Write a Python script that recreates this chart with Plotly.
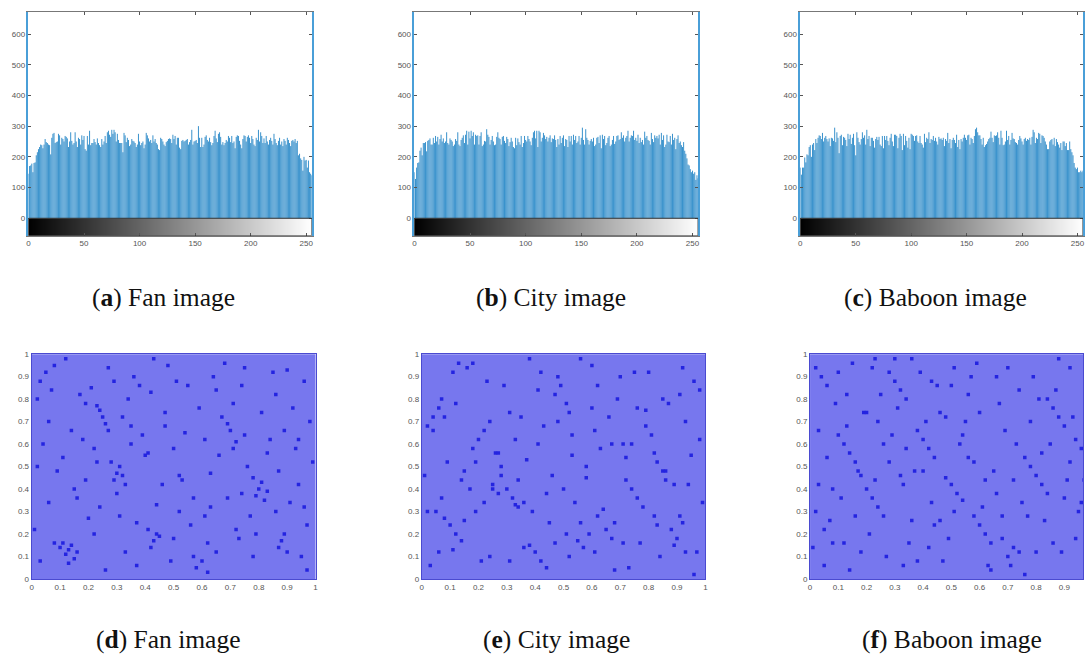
import plotly.graph_objects as go

# Histogram counts per grey level.
levels = list(range(256))
fan_hist = [
145,170,172,178,150,180,182,205,215,225,232,240,238,228,240,258,248,245,240,238,
208,262,275,278,245,248,250,275,270,240,262,258,250,268,265,260,232,250,280,252,
240,245,280,250,232,262,258,240,270,255,268,225,220,268,240,285,238,245,245,258,
248,240,260,245,238,232,258,240,250,268,245,280,285,272,265,288,275,288,280,250,
275,255,245,245,245,215,278,270,248,262,255,235,240,258,252,250,245,232,240,275,
250,238,245,250,228,240,278,270,260,250,255,245,270,250,258,245,240,225,222,262,
258,250,240,235,248,252,258,260,258,245,272,258,268,240,262,262,230,225,252,255,
250,252,255,258,240,248,255,288,240,250,252,255,245,300,262,232,262,232,240,265,
270,255,250,262,248,238,245,268,285,260,248,275,280,265,240,248,238,245,255,250,
268,262,248,268,245,250,228,265,270,268,252,240,228,258,270,268,250,265,270,262,
245,268,258,240,235,262,255,288,250,280,268,245,260,245,268,250,240,255,262,252,
240,275,258,245,238,252,262,240,250,235,258,252,240,262,255,245,235,252,255,250,
258,245,252,205,210,195,190,155,200,188,190,165,188,150,145,140]
city_hist = [
150,128,165,180,182,220,230,205,245,245,248,218,252,255,260,240,240,262,245,268,
250,265,240,258,272,250,260,245,250,280,245,240,260,255,250,235,240,258,252,280,
240,235,255,262,270,245,272,285,240,282,260,285,268,280,240,272,268,270,240,268,
280,235,240,252,250,290,272,265,240,255,268,250,238,240,265,280,262,258,240,265,
268,252,245,265,258,235,248,262,250,232,228,262,238,260,248,240,268,232,245,268,
255,250,268,258,250,238,262,280,285,260,285,232,285,280,250,262,278,270,258,265,
250,262,270,248,260,258,270,255,232,258,240,268,245,262,270,235,258,255,232,268,
250,268,240,272,255,268,245,250,268,240,262,295,255,240,290,262,255,240,252,258,
250,262,235,240,262,265,245,270,228,272,258,268,238,245,262,268,235,240,255,268,
242,250,268,270,255,258,280,262,270,250,262,268,285,250,262,270,268,285,255,262,
252,272,245,262,248,255,240,282,262,268,255,252,240,278,258,248,270,262,268,260,
272,240,278,255,270,232,240,272,250,248,268,240,275,255,262,225,258,270,245,250,
238,232,248,220,210,195,175,172,160,150,155,145,150,125,140,130]
baboon_hist = [
165,142,165,165,198,182,208,205,232,238,200,240,245,222,258,245,262,270,268,258,
278,250,262,268,258,250,260,235,262,260,252,295,248,280,262,212,268,272,238,265,
262,255,235,275,258,272,242,262,275,238,205,280,262,248,240,258,280,262,270,240,
288,258,268,235,262,262,252,230,258,265,255,265,240,235,268,228,268,255,268,252,
238,262,275,250,235,272,272,268,228,262,275,268,222,275,238,268,252,230,262,225,
275,272,268,252,268,270,250,245,268,245,240,230,275,248,262,258,280,245,258,255,
268,252,262,250,240,265,258,260,255,262,235,258,252,278,245,258,228,255,262,255,
245,272,232,255,225,258,250,262,272,262,255,270,272,240,262,258,245,268,290,295,
280,270,270,258,240,262,232,238,242,250,258,262,282,262,248,270,268,270,280,262,
240,285,262,238,240,250,285,255,268,240,255,278,260,258,248,245,240,255,268,260,
250,240,258,262,252,258,255,262,240,265,288,280,245,262,258,278,275,245,270,268,
262,250,240,225,225,250,255,258,240,262,235,258,248,240,230,245,222,250,250,235,
245,222,222,250,225,215,205,180,165,160,165,150,150,155,150,155]

# The scatter clouds hold far too many points to read one by one. These lists are
# a sparse hand-estimated sample, favouring the darker patches seen in each panel;
# the tinted plot background stands in for the cloud's average tone.
fan_x = [
.13,.14,.12,.15,.11,.13,.16,.10,.30,.31,.29,.32,.28,.33,.30,.43,.44,.42,.45,.41,.80,.81,.79,.82,.78,.83,.88,.89,.87,.90,
.25,.24,.26,.23,.27,.58,.60,.62,.57,.61,.70,.72,.71,.69,.05,.03,.07,.02,.08,.06,.17,.19,.21,.18,.22,.20,.36,.38,.35,.39,
.37,.48,.50,.52,.47,.51,.49,.64,.66,.63,.67,.65,.74,.76,.73,.77,.75,.85,.84,.86,.92,.94,.96,.93,.97,.95,.99,.04,.09,.16,
.26,.34,.40,.46,.54,.56,.68,.78,.91,.98,.01,.11,.24,.33,.42,.53,.59,.69,.83,.90,.06,.15,.27,.35,.44,.55,.63,.72,.81,.94,
.08,.19,.29,.37,.47,.57,.65,.75,.87,.96,.02,.12,.22,.32,.41,.50,.61,.71,.79,.89,.03,.14,.23,.31,.43,.52,.62,.74,.86,.97]
fan_y = [
.13,.15,.11,.09,.16,.07,.12,.14,.47,.50,.44,.46,.52,.42,.38,.17,.20,.14,.19,.22,.40,.43,.37,.35,.45,.39,.17,.20,.14,.12,
.72,.75,.69,.77,.66,.05,.08,.03,.10,.62,.66,.61,.58,.69,.92,.88,.84,.80,.95,.34,.82,.78,.85,.62,.58,.27,.90,.86,.68,.64,
.25,.95,.58,.30,.74,.88,.08,.90,.55,.32,.72,.12,.86,.50,.18,.28,.64,.92,.62,.30,.76,.42,.88,.58,.24,.10,.52,.60,.48,.36,
.04,.80,.55,.42,.65,.24,.96,.10,.34,.70,.22,.54,.32,.12,.83,.44,.76,.36,.56,.93,.70,.40,.94,.60,.33,.86,.47,.22,.74,.62,
.16,.44,.88,.06,.68,.36,.84,.94,.48,.32,.50,.98,.20,.72,.56,.18,.28,.78,.20,.66,.08,.66,.52,.28,.98,.46,.16,.38,.82,.04]

city_x = [
.25,.27,.30,.32,.34,.36,.28,.33,.10,.12,.08,.14,.11,.55,.57,.59,.61,.56,.62,.65,.67,.64,.68,.88,.90,.92,.89,.91,.93,.47,
.49,.51,.48,.52,.20,.22,.18,.24,.74,.76,.72,.78,.75,.83,.85,.82,.86,.40,.42,.38,.44,.41,.04,.02,.06,.01,.07,.96,.98,.95,
.99,.97,.16,.15,.19,.29,.31,.35,.37,.53,.54,.58,.60,.69,.71,.73,.79,.81,.84,.87,.05,.09,.13,.17,.21,.23,.26,.39,.43,.45,
.46,.50,.63,.66,.70,.77,.80,.94,.03,.12,.22,.33,.41,.52,.61,.72,.83,.91,.07,.18,.28,.36,.48,.56,.67,.76,.86,.96,.02,.11,
.24,.31,.44,.53,.62,.74,.82,.93,.06,.15,.27,.38,.47,.58,.68,.79,.89,.98,.04,.14,.25,.34,.42,.51,.60,.71,.85,.92,.08,.19]
city_y = [
.42,.38,.40,.36,.44,.34,.46,.33,.24,.20,.27,.17,.13,.17,.14,.20,.12,.25,.28,.22,.18,.31,.25,.22,.18,.25,.15,.28,.12,.82,
.86,.78,.90,.74,.62,.66,.58,.70,.40,.36,.44,.32,.92,.52,.48,.56,.44,.12,.08,.15,.05,.60,.72,.68,.76,.46,.80,.88,.62,.55,
.34,.12,.94,.48,.30,.86,.08,.72,.53,.64,.34,.45,.95,.80,.60,.05,.75,.64,.10,.78,.30,.52,.96,.40,.08,.88,.56,.30,.68,.25,
.46,.40,.58,.72,.90,.16,.92,.42,.06,.78,.34,.62,.84,.10,.66,.54,.24,.82,.36,.96,.50,.14,.70,.98,.60,.76,.48,.02,.30,.92,
.10,.74,.38,.55,.86,.60,.28,.70,.12,.26,.56,.98,.16,.50,.04,.68,.42,.84,.66,.44,.40,.32,.92,.20,.76,.16,.80,.94,.72,.52]

baboon_x = [
.70,.72,.68,.74,.71,.50,.52,.48,.54,.51,.86,.88,.84,.90,.87,.60,.62,.58,.64,.61,.12,.14,.10,.16,.13,.30,.32,.28,.34,.31,
.22,.24,.20,.26,.23,.40,.42,.38,.44,.41,.78,.80,.76,.82,.79,.94,.95,.93,.96,.04,.06,.02,.08,.05,.18,.19,.27,.29,.35,.37,
.45,.47,.55,.57,.65,.67,.73,.75,.83,.85,.91,.92,.01,.03,.07,.09,.11,.15,.17,.21,.25,.33,.36,.39,.43,.46,.49,.53,.56,.59,
.63,.66,.69,.77,.81,.89,.97,.06,.14,.24,.32,.42,.51,.60,.72,.80,.90,.02,.13,.22,.34,.44,.54,.64,.74,.84,.94,.08,.18,.28,
.38,.48,.58,.68,.78,.88,.05,.16,.26,.36,.46,.56,.66,.76,.86,.96,.10,.20,.30,.40,.50,.62,.70,.82,.92,.03,.12,.23,.33,.43]
baboon_y = [
.10,.14,.18,.12,.06,.42,.38,.45,.35,.30,.76,.72,.80,.68,.84,.24,.20,.28,.16,.32,.60,.56,.64,.52,.68,.88,.84,.92,.80,.76,
.36,.32,.40,.28,.44,.62,.58,.66,.54,.70,.50,.46,.54,.42,.90,.18,.30,.72,.58,.90,.86,.94,.40,.22,.12,.74,.10,.64,.16,.48,
.86,.08,.70,.90,.48,.78,.60,.34,.26,.60,.44,.94,.14,.66,.26,.78,.36,.96,.48,.20,.82,.06,.26,.92,.34,.74,.18,.60,.82,.96,
.06,.90,.66,.28,.80,.12,.44,.54,.04,.70,.46,.14,.94,.74,.44,.12,.36,.30,.82,.94,.58,.24,.64,.04,.84,.38,.62,.16,.46,.52,
.08,.72,.52,.28,.70,.98,.06,.28,.60,.98,.26,.54,.38,.02,.16,.34,.92,.74,.98,.48,.86,.44,.94,.56,.52,.42,.16,.98,.42,.88]

hist_ticks_x = [0, 50, 100, 150, 200, 250]
hist_ticks_y = [0, 100, 200, 300, 400, 500, 600]
unit_ticks = [0, .1, .2, .3, .4, .5, .6, .7, .8, .9, 1]
unit_labels = ["0", "0.1", "0.2", "0.3", "0.4", "0.5", "0.6", "0.7", "0.8", "0.9", "1"]

W, H = 1086, 657
TICK_FONT = dict(family="Liberation Sans", size=8, color="#555555")
BLUE = "#0072BD"
EDGE = "#4a9fd8"

hist_panels = [(fan_hist, 26.6, 311.2), (city_hist, 414.3, 699.3), (baboon_hist, 802, 1086)]
scatter_panels = [(fan_x, fan_y, 29.8, 315, 1), (city_x, city_y, 421.7, 706.6, 1),
                  (baboon_x, baboon_y, 811.8, 1086, 0.966)]
captions = [("a", "Fan", 162, 298), ("b", "City", 552, 298), ("c", "Baboon", 938, 298),
            ("d", "Fan", 167, 644), ("e", "City", 557, 644), ("f", "Baboon", 954, 644)]
HIST_TOP, HIST_BOTTOM = 8, 235
SCAT_TOP, SCAT_BOTTOM = 355, 583

fig = go.Figure()
layout = {}
shapes = []
n = 0
for counts, left, right in hist_panels:
    n += 1
    xa, ya = f"x{n}", f"y{n}"
    layout[f"xaxis{n}"] = dict(domain=[left / W, right / W], range=[0, 255], anchor=ya,
        tickvals=hist_ticks_x, ticks="inside", ticklen=3, tickcolor="#555555", tickwidth=1,
        showline=True, linecolor="#777777", linewidth=1, mirror="ticks", showgrid=False,
        zeroline=False, tickfont=TICK_FONT, tickangle=0)
    layout[f"yaxis{n}"] = dict(domain=[1 - HIST_BOTTOM / H, 1 - HIST_TOP / H], range=[-57, 672], anchor=xa,
        tickvals=hist_ticks_y, ticks="inside", ticklen=3, tickcolor="#555555", tickwidth=1,
        showline=True, linecolor=EDGE, linewidth=1.5, mirror="ticks", showgrid=False,
        zeroline=False, tickfont=TICK_FONT)
    xs, ys = [], []
    for lv, c in zip(levels, counts):
        xs += [lv, lv, None]
        ys += [0, c, None]
    fig.add_trace(go.Scatter(x=xs, y=ys, mode="lines", line=dict(color=BLUE, width=0.78),
                             xaxis=xa, yaxis=ya, hoverinfo="skip", showlegend=False))
    fig.add_trace(go.Heatmap(z=[levels], x=levels, y=[-57, 0], xaxis=xa, yaxis=ya,
                             colorscale=[[0, "black"], [1, "white"]], showscale=False,
                             hoverinfo="skip"))
    shapes.append(dict(type="rect", xref=xa, yref=ya, x0=0, x1=255, y0=-57, y1=0,
                       line=dict(color="#333333", width=1)))

for px, py, left, right, xmax in scatter_panels:
    n += 1
    xa, ya = f"x{n}", f"y{n}"
    layout[f"xaxis{n}"] = dict(domain=[left / W, right / W], range=[0, xmax], anchor=ya,
        tickvals=unit_ticks, ticktext=unit_labels, ticks="", showline=True,
        linecolor="#4a4ad0", linewidth=1, mirror=True, showgrid=False, zeroline=False,
        tickfont=TICK_FONT, tickangle=0)
    layout[f"yaxis{n}"] = dict(domain=[1 - SCAT_BOTTOM / H, 1 - SCAT_TOP / H], range=[0, 1], anchor=xa,
        tickvals=unit_ticks, ticktext=unit_labels, ticks="", showline=True,
        linecolor="#4a4ad0", linewidth=1, mirror=True, showgrid=False, zeroline=False,
        tickfont=TICK_FONT)
    fig.add_trace(go.Scatter(x=px, y=py, mode="markers", xaxis=xa, yaxis=ya,
                             marker=dict(symbol="square", size=3.5, color="#2424e0"),
                             hoverinfo="skip", showlegend=False, cliponaxis=True))

annotations = [dict(text=f"(<b>{tag}</b>) {name} image", x=cx / W, y=1 - cy / H,
                    xref="paper", yref="paper", showarrow=False, xanchor="center",
                    yanchor="middle", font=dict(family="Liberation Serif", size=25.5, color="#111111"))
               for tag, name, cx, cy in captions]

fig.update_layout(width=W, height=H, margin=dict(l=0, r=0, t=0, b=0), autosize=False,
                  paper_bgcolor="white", plot_bgcolor="white", showlegend=False,
                  shapes=shapes, annotations=annotations, **layout)
# Tinted rectangles below the scatter marks stand in for the dense cloud's average tone.
for k in (4, 5, 6):
    fig.add_shape(type="rect", xref=f"x{k} domain", yref=f"y{k} domain", x0=0, x1=1, y0=0, y1=1,
                  fillcolor="#7777ee", line_width=0, layer="below")

fig.write_html("out.html", config={"displayModeBar": False},
               post_script="document.body.style.margin='0';document.body.style.overflow='hidden';")
